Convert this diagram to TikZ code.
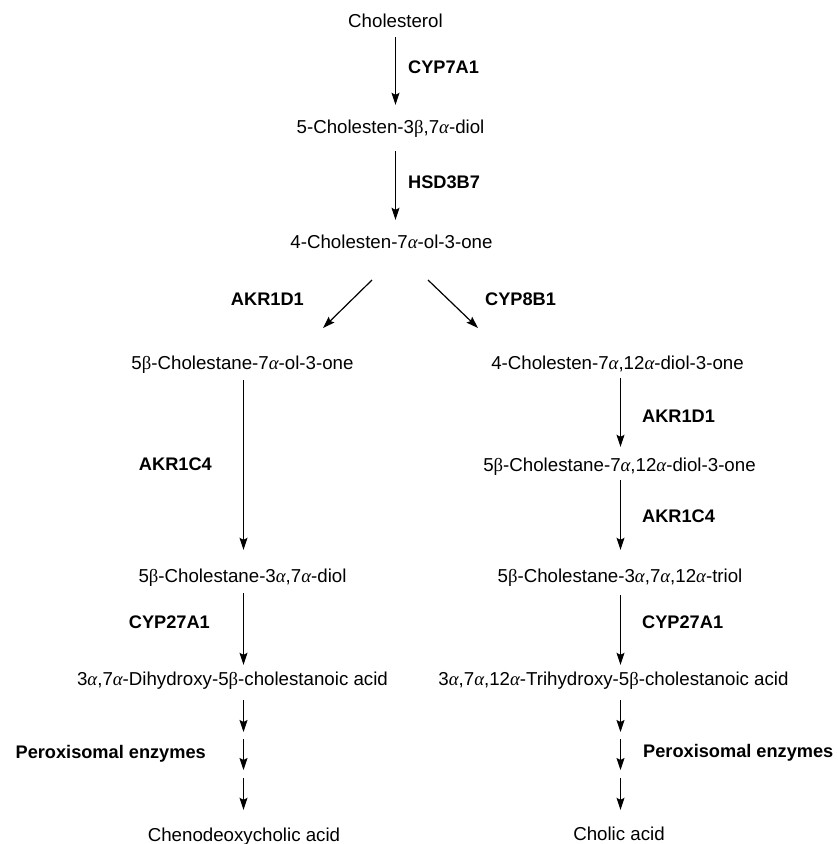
\documentclass[tikz,border=0pt]{standalone}
\usepackage{fontspec}
\setmainfont{Liberation Sans}
\newfontfamily\greekfont{Liberation Serif}
\usepackage{tikz}
\usetikzlibrary{arrows.meta}
\newcommand{\alp}{{\greekfont\itshape α}}
\newcommand{\bet}{{\greekfont β}}
\tikzset{
  chem/.style={anchor=base,inner sep=0pt,text height=14pt,text depth=4pt,font=\fontsize{18.7}{22}\selectfont},
  enz/.style={inner sep=0pt,font=\fontsize{18.2}{22}\selectfont\bfseries},
  rxn/.style={line width=1.2pt,-{Stealth[length=12pt,width=8pt,inset=2pt]},shorten <=7pt,shorten >=7pt}
}

\begin{document}
\begin{tikzpicture}[x=1pt,y=-1pt]
\useasboundingbox (0,0) rectangle (838,844);
\coordinate (lcol) at (243.5,0);
\coordinate (rcol) at (620.5,0);

% main trunk
\node[chem] (chol) at (395.5,27) {Cholesterol};
\node[chem] (diol) at (390.5,133) {5-Cholesten-3\bet,7\alp-diol};
\node[chem] (olone) at (391.5,248) {4-Cholesten-7\alp-ol-3-one};
\draw[rxn,shorten <=6pt,shorten >=14pt] (chol.south) -- (chol.south |- diol.north);
\draw[rxn,shorten <=14pt,shorten >=14pt] (chol |- diol.south) -- (chol |- olone.north);
\node[enz,anchor=base west] (e1) at (408,73) {CYP7A1};
\node[enz,anchor=base west] (e2) at (408,188) {HSD3B7};

% branch point
\coordinate (forkL) at (372,280);
\coordinate (forkR) at (428,280);
\coordinate (tipL) at (323,328);
\coordinate (tipR) at (478,328);
\draw[rxn,shorten <=0pt,shorten >=0pt] (forkL) -- (tipL);
\draw[rxn,shorten <=0pt,shorten >=0pt] (forkR) -- (tipR);
\node[enz,anchor=base east] (e3) at (304,305) {AKR1D1};
\node[enz,anchor=base west] (e4) at (485,305) {CYP8B1};

% left column
\node[chem] (left1) at (242.5,369) {5\bet-Cholestane-7\alp-ol-3-one};
\node[chem] (left2) at (242.5,582) {5\bet-Cholestane-3\alp,7\alp-diol};
\node[chem] (lacid) at (232.5,685) {3\alp,7\alp-Dihydroxy-5\bet-cholestanoic acid};
\node[chem] (cheno) at (244,841) {Chenodeoxycholic acid};
\draw[rxn,shorten >=18pt] (lcol |- left1.south) -- (lcol |- left2.north);
\draw[rxn,shorten >=6pt] (lcol |- left2.south) -- (lcol |- lacid.north);
\node[enz,anchor=base east] (e5) at (212,470) {AKR1C4};
\node[enz,anchor=base east] (e6) at (210,628) {CYP27A1};
\coordinate (lp1) at (243.5,735.5);
\coordinate (lp2) at (243.5,774.5);
\draw[rxn,shorten <=11pt,shorten >=3.5pt] (lcol |- lacid.south) -- (lp1);
\draw[rxn,shorten <=3.5pt,shorten >=4.5pt] (lp1) -- (lp2);
\draw[rxn,shorten <=3.5pt,shorten >=17pt] (lp2) -- (lcol |- cheno.north);
\node[enz,anchor=base east] (e7) at (206,758) {Peroxisomal enzymes};

% right column
\node[chem] (right1) at (617.5,369) {4-Cholesten-7\alp,12\alp-diol-3-one};
\node[chem] (right2) at (619.5,471) {5\bet-Cholestane-7\alp,12\alp-diol-3-one};
\node[chem] (right3) at (620,582) {5\bet-Cholestane-3\alp,7\alp,12\alp-triol};
\node[chem] (racid) at (613.5,685) {3\alp,7\alp,12\alp-Trihydroxy-5\bet-cholestanoic acid};
\node[chem] (cholic) at (619,840) {Cholic acid};
\draw[rxn,shorten <=5pt,shorten >=10pt] (rcol |- right1.south) -- (rcol |- right2.north);
\draw[rxn,shorten <=5pt,shorten >=18pt] (rcol |- right2.south) -- (rcol |- right3.north);
\draw[rxn,shorten <=9pt,shorten >=6pt] (rcol |- right3.south) -- (rcol |- racid.north);
\node[enz,anchor=base west] (e8) at (642,422) {AKR1D1};
\node[enz,anchor=base west] (e9) at (642,522) {AKR1C4};
\node[enz,anchor=base west] (e10) at (642,628) {CYP27A1};
\coordinate (rp1) at (620.5,735.5);
\coordinate (rp2) at (620.5,774.5);
\draw[rxn,shorten <=11pt,shorten >=3.5pt] (rcol |- racid.south) -- (rp1);
\draw[rxn,shorten <=3.5pt,shorten >=4.5pt] (rp1) -- (rp2);
\draw[rxn,shorten <=3.5pt,shorten >=16pt] (rp2) -- (rcol |- cholic.north);
\node[enz,anchor=base west] (e11) at (643,757) {Peroxisomal enzymes};
\end{tikzpicture}
\end{document}
